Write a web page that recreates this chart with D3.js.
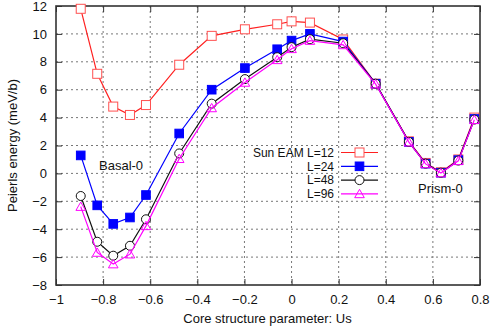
<!DOCTYPE html>
<html><head><meta charset="utf-8">
<script src="https://cdn.jsdelivr.net/npm/d3@7"></script>
<style>body{margin:0;background:#fff;} text{font-family:"Liberation Sans",Arial,sans-serif;}</style>
</head><body>
<svg id="c" width="491" height="329"></svg>
<script>
const us = [-0.895, -0.825, -0.757, -0.686, -0.618, -0.477, -0.339, -0.198, -0.061, 0.0, 0.078, 0.219, 0.357, 0.498, 0.569, 0.634, 0.708, 0.776];
const l12 = [11.8, 7.14, 4.79, 4.19, 4.9, 7.79, 9.86, 10.33, 10.69, 10.9, 10.81, 9.6, 6.43, 2.3, 0.75, 0.08, 1.0, 4.0];
const l24 = [1.29, -2.29, -3.62, -3.16, -1.55, 2.86, 6.0, 7.55, 8.9, 9.52, 10.0, 9.45, 6.43, 2.26, 0.7, 0.05, 0.95, 3.9];
const l48 = [-1.62, -4.9, -5.9, -5.19, -3.29, 1.43, 5.0, 6.76, 8.33, 9.05, 9.62, 9.33, 6.43, 2.26, 0.7, 0.05, 0.92, 3.86];
const l96 = [-2.38, -5.67, -6.5, -5.79, -3.76, 1.05, 4.69, 6.52, 8.14, 8.93, 9.52, 9.21, 6.4, 2.24, 0.68, 0.03, 0.9, 3.84];
const seriesNames = ["Sun EAM L=12", "L=24", "L=48", "L=96"];
const xTicks = [-1, -0.8, -0.6, -0.4, -0.2, 0, 0.2, 0.4, 0.6, 0.8];
const yTicks = [-8, -6, -4, -2, 0, 2, 4, 6, 8, 10, 12];

const svg = d3.select("#c");
const L = 56, R = 480, T = 6, B = 285;
const x = d3.scaleLinear().domain([-1, 0.8]).range([L, R]);
const y = d3.scaleLinear().domain([-8, 12]).range([B, T]);

// grid
const g = svg.append("g");
g.selectAll(".gx").data(xTicks.slice(1, -1)).enter().append("line")
  .attr("x1", d => x(d)).attr("x2", d => x(d)).attr("y1", T).attr("y2", B)
  .attr("stroke", "#777").attr("stroke-width", 1).attr("stroke-dasharray", "2,3");
g.selectAll(".gy").data(yTicks.slice(1, -1)).enter().append("line")
  .attr("y1", d => y(d)).attr("y2", d => y(d)).attr("x1", L).attr("x2", R)
  .attr("stroke", "#777").attr("stroke-width", 1).attr("stroke-dasharray", "2,3");

// axes
const fs = "13px";
const ax = svg.append("g").attr("transform", `translate(0,${B})`)
  .call(d3.axisBottom(x).tickValues(xTicks).tickSize(-6).tickPadding(10).tickFormat(d3.format("")));
const ax2 = svg.append("g").attr("transform", `translate(0,${T})`)
  .call(d3.axisTop(x).tickValues(xTicks).tickSize(-6).tickFormat(""));
const ay = svg.append("g").attr("transform", `translate(${L},0)`)
  .call(d3.axisLeft(y).tickValues(yTicks).tickSize(-6).tickPadding(10).tickFormat(d3.format("")));
const ay2 = svg.append("g").attr("transform", `translate(${R},0)`)
  .call(d3.axisRight(y).tickValues(yTicks).tickSize(-6).tickFormat(""));
[ax, ax2, ay, ay2].forEach(a => {
  a.select(".domain").remove();
  a.selectAll(".tick line").attr("stroke", "#333").attr("stroke-width", 1);
  a.selectAll("text").attr("font-size", fs).attr("fill", "#111")
   .attr("font-family", "Liberation Sans, Arial, sans-serif");
});
ay.selectAll("text").attr("dx", "1");

svg.append("rect").attr("x", L).attr("y", T).attr("width", R - L).attr("height", B - T)
  .attr("fill", "none").attr("stroke", "#333").attr("stroke-width", 1.6);

// axis titles
svg.append("text").attr("x", (L + R) / 2 - 0.5).attr("y", 323).attr("text-anchor", "middle")
  .attr("font-size", fs).attr("fill", "#111").text("Core structure parameter: Us");
svg.append("text").attr("transform", `translate(17,${(T + B) / 2}) rotate(-90)`)
  .attr("text-anchor", "middle").attr("font-size", fs).attr("fill", "#111")
  .text("Peierls energy (meV/b)");

// series
const series = [
  {name: seriesNames[0], vals: l12, color: "#ff2020", marker: "sq", fill: "#fff"},
  {name: seriesNames[1], vals: l24, color: "#0000ff", marker: "sq", fill: "#0000ff"},
  {name: seriesNames[2], vals: l48, color: "#111", marker: "ci", fill: "#fff"},
  {name: seriesNames[3], vals: l96, color: "#ff00ff", marker: "tr", fill: "none"}
];
const line = d3.line().x(d => x(d[0])).y(d => y(d[1]));
function drawMarker(sel, s, cx, cy) {
  if (s.marker === "sq") {
    const h = s.fill === "#fff" ? 4.5 : 4.3;
    sel.append("rect").attr("x", cx - h).attr("y", cy - h).attr("width", 2 * h).attr("height", 2 * h)
      .attr("fill", s.fill).attr("stroke", s.fill === "#fff" ? "#ff5050" : s.color).attr("stroke-width", 1);
  } else if (s.marker === "ci") {
    sel.append("circle").attr("cx", cx).attr("cy", cy).attr("r", 4.5)
      .attr("fill", s.fill).attr("stroke", s.color).attr("stroke-width", 1);
  } else {
    const p = d3.symbol().type(d3.symbolTriangle).size(40);
    sel.append("path").attr("d", p()).attr("transform", `translate(${cx},${cy + 1})`)
      .attr("fill", "none").attr("stroke", s.color).attr("stroke-width", 1);
  }
}
series.forEach(s => {
  const pts = us.map((u, i) => [u, s.vals[i]]);
  const gg = svg.append("g");
  gg.append("path").attr("d", line(pts)).attr("fill", "none").attr("stroke", s.color).attr("stroke-width", 1.2);
  pts.forEach(p => drawMarker(gg, s, x(p[0]), y(p[1])));
});

// legend
series.forEach((s, i) => {
  const ly = 152.5 + i * 13.8;
  svg.append("text").attr("x", 334).attr("y", ly + 4.3).attr("text-anchor", "end")
    .attr("font-size", "12px").attr("fill", "#111").text(s.name);
  svg.append("line").attr("x1", 341).attr("x2", 378).attr("y1", ly).attr("y2", ly)
    .attr("stroke", s.color).attr("stroke-width", 1.2);
  drawMarker(svg, s, 359.5, ly);
});

// annotations
svg.append("text").attr("x", 99).attr("y", 170).attr("font-size", fs).attr("fill", "#111").text("Basal-0");
svg.append("text").attr("x", 418).attr("y", 193).attr("font-size", fs).attr("fill", "#111").text("Prism-0");
</script>
</body></html>
